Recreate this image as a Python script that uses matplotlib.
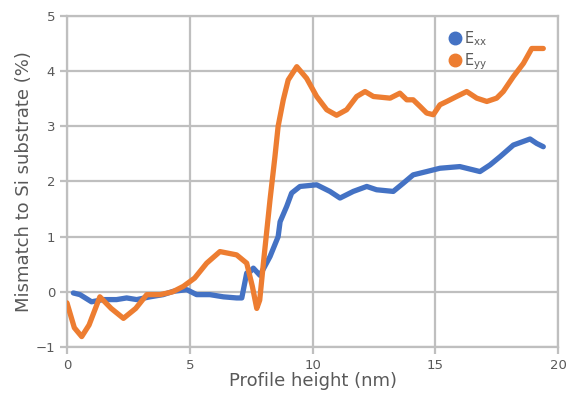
import numpy as np
import matplotlib
matplotlib.use("Agg")
import matplotlib.pyplot as plt
from matplotlib.lines import Line2D

# Exx (blue)
exx_x = [0.26, 0.53, 1.0, 1.48, 2.02, 2.43, 2.84, 3.38, 3.92, 4.33, 4.88, 5.28,
         5.82, 6.37, 6.91, 7.12, 7.32, 7.45, 7.59, 7.86, 8.27, 8.6, 8.68, 8.95,
         9.15, 9.49, 10.17, 10.71, 11.12, 11.66, 12.21, 12.61, 13.29, 13.7,
         14.1, 14.65, 15.19, 16.0, 16.55, 16.82, 17.23, 17.64, 18.18, 18.86,
         19.13, 19.4]
exx_y = [-0.02, -0.05, -0.18, -0.14, -0.14, -0.11, -0.14, -0.09, -0.05, 0.01,
         0.04, -0.05, -0.05, -0.09, -0.11, -0.11, 0.34, 0.36, 0.43, 0.30, 0.64,
         1.0, 1.27, 1.55, 1.79, 1.91, 1.94, 1.82, 1.70, 1.82, 1.91, 1.85, 1.82,
         1.97, 2.12, 2.18, 2.24, 2.27, 2.21, 2.18, 2.30, 2.45, 2.66, 2.77,
         2.69, 2.63]

# Eyy (orange)
eyy_x = [0.0, 0.3, 0.6, 0.9, 1.34, 1.8, 2.3, 2.8, 3.25, 3.8, 4.3, 4.74, 5.2,
         5.69, 6.23, 6.91, 7.32, 7.55, 7.73, 7.85, 8.0, 8.27, 8.47, 8.6, 8.81,
         9.01, 9.36, 9.76, 10.17, 10.58, 10.98, 11.39, 11.8, 12.14, 12.48,
         13.16, 13.56, 13.84, 14.1, 14.38, 14.65, 14.92, 15.19, 15.47, 15.87,
         16.28, 16.69, 17.1, 17.5, 17.77, 18.18, 18.59, 18.93, 19.4]
eyy_y = [-0.2, -0.65, -0.81, -0.6, -0.09, -0.3, -0.48, -0.3, -0.05, -0.05,
         0.0, 0.1, 0.25, 0.52, 0.73, 0.67, 0.52, 0.1, -0.3, -0.15, 0.52, 1.67,
         2.45, 3.0, 3.48, 3.84, 4.08, 3.87, 3.54, 3.30, 3.20, 3.30, 3.54, 3.63,
         3.54, 3.51, 3.60, 3.48, 3.48, 3.36, 3.24, 3.21, 3.39, 3.45, 3.54,
         3.63, 3.51, 3.45, 3.51, 3.63, 3.90, 4.14, 4.41, 4.41]

x_ticks = [0, 5, 10, 15, 20]
y_ticks = [-1, 0, 1, 2, 3, 4, 5]

BLUE = "#4472C4"
ORANGE = "#ED7D31"
GRID = "#BFBFBF"
TEXT = "#595959"

fig = plt.figure(figsize=(5.7, 3.98), dpi=100)
ax = fig.add_axes([0.1175, 0.128, 0.8615, 0.832])

ax.plot(exx_x, exx_y, color=BLUE, lw=3.8, solid_capstyle="round",
        solid_joinstyle="round", zorder=3)
ax.plot(eyy_x, eyy_y, color=ORANGE, lw=3.8, solid_capstyle="round",
        solid_joinstyle="round", zorder=3)

ax.set_xlim(0, 20)
ax.set_ylim(-1, 5)
ax.set_xticks(x_ticks)
ax.set_yticks(y_ticks)
ax.grid(True, color=GRID, lw=1.6, zorder=0)
for s in ax.spines.values():
    s.set_color(GRID)
    s.set_linewidth(1.6)
ax.tick_params(colors=GRID, labelcolor=TEXT, length=5, width=1.6,
               labelsize=9.5)
ax.set_xlabel("Profile height (nm)", color=TEXT, fontsize=13, labelpad=0)
ax.set_ylabel("Mismatch to Si substrate (%)", color=TEXT, fontsize=13,
              labelpad=2)

handles = [Line2D([], [], ls="", marker="o", ms=9, color=BLUE),
           Line2D([], [], ls="", marker="o", ms=9, color=ORANGE)]
leg = ax.legend(handles, ["E$_{\\mathrm{xx}}$", "E$_{\\mathrm{yy}}$"],
                loc="upper right", bbox_to_anchor=(0.88, 0.995),
                frameon=False, fontsize=10.5, handletextpad=0.1,
                handlelength=1.0, labelspacing=0.25, borderpad=0.3)
for t in leg.get_texts():
    t.set_color(TEXT)

fig.savefig("out.png", dpi=100)
